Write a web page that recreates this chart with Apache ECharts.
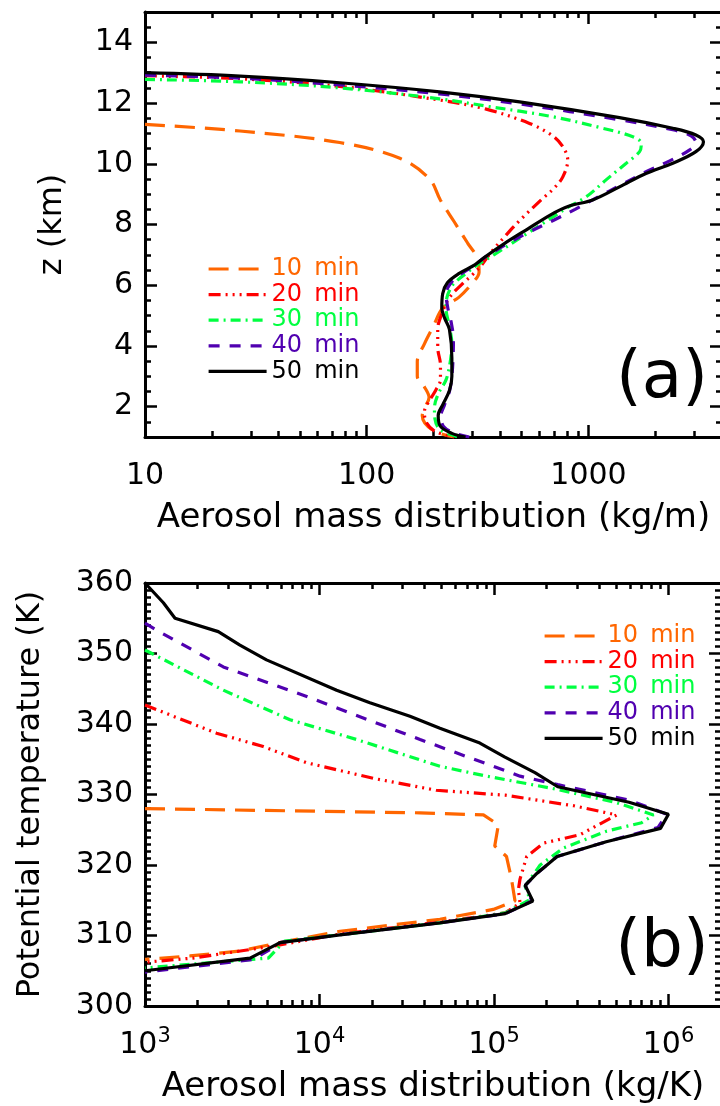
<!DOCTYPE html>
<html lang="en">
<head>
<meta charset="UTF-8">
<title>Aerosol mass distribution</title>
<script src="https://cdn.jsdelivr.net/npm/echarts@6.0.0/dist/echarts.min.js"></script>
<style>
  html, body { margin: 0; padding: 0; background: #fff; }
  #main { width: 720px; height: 1106px; }
</style>
</head>
<body>
<div id="main"></div>
<script>
// legend names, colours and dash patterns
var names = ['10 min', '20 min', '30 min', '40 min', '50 min'];
var colors = ['#ff6600', '#ff0000', '#00ff40', '#5000b0', '#000000'];
var dashes = [[20, 10], [12, 5, 2, 5, 2, 5, 2, 5], [10, 5, 2, 5], [11, 10], 'solid'];

// panel (a): [mass (kg/m), z (km)]
var a10 = [[10,11.3],[26.8,11.08],[75.5,10.7],[141,10.18],[192,9.5],[215,8.8],[248,8.09],[285,7.39],[315,6.9],[321,6.43],[300,6.08],[260,5.6],[220,5.25],[200,4.66],[182,4.07],[169,3.48],[169,3.0],[182,2.65],[191,2.3],[182,1.95],[178,1.7],[198,1.23],[248,1.0]];
var a20 = [[10,12.9],[26.8,12.8],[75.5,12.55],[213,12.1],[346,11.8],[542,11.33],[680,10.95],[760,10.6],[806,10.12],[766,9.57],[700,9.2],[622,8.86],[500,8.2],[419,7.6],[365,7.1],[330,6.67],[300,6.35],[273,6.08],[237,5.61],[220,5.13],[209,4.54],[209,3.95],[215,3.37],[215,2.89],[205,2.55],[191,2.18],[182,1.83],[186,1.47],[205,1.17],[248,1.0]];
var a30 = [[10,12.78],[26.8,12.7],[75.5,12.5],[213,12.14],[346,11.9],[690,11.55],[1160,11.17],[1585,10.89],[1730,10.67],[1700,10.4],[1480,10.02],[1200,9.47],[980,8.92],[800,8.55],[675,8.2],[507,7.62],[380,7.03],[320,6.7],[285,6.43],[255,6.15],[242,5.97],[230,5.6],[228,5.2],[235,4.7],[242,4.07],[238,3.48],[228,2.89],[210,2.42],[202,1.95],[203,1.6],[215,1.23],[260,1.0]];
var a40 = [[10,12.92],[26.8,12.82],[75.5,12.6],[213,12.3],[489,11.97],[1380,11.45],[2400,11.12],[2900,10.92],[3050,10.7],[2850,10.45],[2300,10.08],[1800,9.72],[1400,9.3],[1100,8.9],[870,8.5],[700,8.15],[540,7.75],[420,7.32],[345,6.94],[300,6.62],[262,6.33],[238,6.05],[228,5.72],[232,5.25],[240,4.8],[246,4.2],[245,3.6],[242,3.0],[236,2.5],[224,2.05],[216,1.7],[222,1.35],[250,1.12],[290,1.0]];
var a50 = [[10,13.0],[26.8,12.89],[75.5,12.67],[213,12.37],[489,12.04],[1380,11.52],[2400,11.17],[3050,10.95],[3300,10.73],[3050,10.4],[2400,10.02],[1815,9.68],[1380,9.24],[1045,8.81],[813,8.6],[675,8.32],[531,7.85],[419,7.38],[346,6.96],[307,6.67],[260,6.38],[231,6.08],[220,5.72],[218,5.25],[225,4.9],[236,4.54],[242,3.6],[242,3.0],[236,2.53],[220,2.06],[210,1.71],[215,1.35],[242,1.12],[279,1.0]];

// panel (b): [mass (kg/K), potential temperature (K)]
var b10 = [[1000,328],[37700,327.4],[87000,327.1],[106000,325.7],[101000,322.7],[118000,321.2],[126000,318],[132000,314.9],[99000,313.7],[49000,312.3],[13100,310.6],[5940,309],[3500,307.8],[1810,307.1],[1000,306.6]];
var b20 = [[1000,342.7],[1453,341.1],[2570,338.7],[4760,336.8],[8450,334.5],[20300,332.3],[46600,330.6],[116000,329.9],[287000,328.4],[505000,327.1],[311000,324.3],[192000,323.1],[154000,321.2],[141000,318],[138000,316.5],[141000,314.6],[116000,313.2],[49000,311.9],[13100,310.2],[5430,308.5],[1880,306.8],[1000,306.2]];
var b30 = [[1000,350.5],[2810,344.8],[6780,340.6],[16300,337.8],[49000,334],[90900,332.6],[212000,330.9],[496000,328.9],[820000,327.1],[702000,326],[442000,324.8],[250000,322.4],[184000,320],[150700,317],[161000,315.1],[116000,313.2],[49000,311.8],[13100,310.1],[6310,309.2],[5090,306.8],[1000,305.4]];
var b40 = [[1000,354.3],[1166,353.3],[2810,348.1],[8450,343.9],[37700,337.8],[141000,332.6],[232000,331.4],[594000,329.2],[980000,327.2],[870000,325.3],[440000,323.3],[230000,321.2],[176000,318.8],[151000,317.1],[165000,314.9],[116000,313.1],[49000,311.8],[13100,310.1],[5940,309],[5430,308.3],[4170,306.6],[1000,304.8]];
var b50 = [[1000,360],[1274,357.2],[1486,355],[2630,353.1],[3500,351.2],[4970,349.1],[12540,344.8],[19450,343],[33000,341.1],[49000,339.4],[83000,337.3],[115600,335.3],[171700,333.1],[232000,331.1],[389000,329.9],[594000,328.9],[1000000,327.2],[900000,325.2],[440000,323.3],[230000,321.2],[176000,318.8],[151000,317.1],[167000,314.9],[116000,313.1],[49000,311.8],[13100,310.1],[5940,309],[4000,306.8],[1000,305]];

// tick positions
var aMinorX = [20,30,40,50,60,70,80,90,200,300,400,500,600,700,800,900,2000,3000,4000];
var bMinorX = [2e3,3e3,4e3,5e3,6e3,7e3,8e3,9e3,2e4,3e4,4e4,5e4,6e4,7e4,8e4,9e4,2e5,3e5,4e5,5e5,6e5,7e5,8e5,9e5,2e6];
var aMajorY = [2,4,6,8,10,12,14];
var aMinorY = [1,1.5,2.5,3,3.5,4.5,5,5.5,6.5,7,7.5,8.5,9,9.5,10.5,11,11.5,12.5,13,13.5,14.5,15];

var font = 'DejaVu Sans';
var chart = echarts.init(document.getElementById('main'));

function isDecade(v) {
  var l = Math.log(v) / Math.LN10;
  return Math.abs(l - Math.round(l)) < 1e-6;
}

// one log x axis; kind = 'main' | 'top' | 'minor'
function xAxis(grid, min, max, kind, minor, extra) {
  var ax = {
    gridIndex: grid, type: 'log', logBase: 10, min: min, max: max,
    position: kind == 'top' ? 'top' : 'bottom',
    splitLine: { show: false },
    axisLine: { show: kind != 'minor', onZero: false, lineStyle: { color: '#000', width: 3 } },
    axisTick: { inside: true, length: 12, lineStyle: { color: '#000', width: 2.5 } },
    axisLabel: { show: false }
  };
  if (kind == 'minor') {
    ax.axisTick = { inside: true, length: 6, customValues: minor, lineStyle: { color: '#000', width: 2.5 } };
  }
  if (extra) {
    for (var k in extra) ax[k] = extra[k];
  }
  return ax;
}

function yAxis(grid, min, max, kind, opts) {
  var ax = {
    gridIndex: grid, type: 'value', min: min, max: max,
    position: kind == 'right' ? 'right' : 'left',
    splitLine: { show: false },
    axisLine: { show: kind != 'minor', onZero: false, lineStyle: { color: '#000', width: 3 } },
    axisTick: { inside: true, length: 12, lineStyle: { color: '#000', width: 2.5 } },
    axisLabel: { show: false }
  };
  for (var k in opts) ax[k] = opts[k];
  return ax;
}

var xName = { fontSize: 34, fontFamily: font, color: '#000' };
var yName = { fontSize: 32, fontFamily: font, color: '#000' };

var xAxes = [
  // panel (a)
  xAxis(0, 10, 4000, 'main', null, {
    name: 'Aerosol mass distribution (kg/m)', nameLocation: 'middle', nameGap: 64, nameTextStyle: xName,
    axisLabel: { show: true, fontSize: 30, fontFamily: font, color: '#000', lineHeight: 30, margin: 24,
      formatter: function (v) { return isDecade(v) ? String(Math.round(v)) : ''; } }
  }),
  xAxis(0, 10, 4000, 'top'),
  xAxis(0, 10, 4000, 'minor', aMinorX),
  xAxis(0, 10, 4000, 'minor', aMinorX, { position: 'top' }),
  // panel (b)
  xAxis(1, 1e3, 2e6, 'main', null, {
    name: 'Aerosol mass distribution (kg/K)', nameLocation: 'middle', nameGap: 64, nameTextStyle: xName,
    axisLabel: { show: true, margin: 20, color: '#000',
      formatter: function (v) {
        if (!isDecade(v)) return '';
        return '{b|10}{s|' + Math.round(Math.log(v) / Math.LN10) + '}';
      },
      rich: {
        b: { fontSize: 30, fontFamily: font, color: '#000', lineHeight: 34, verticalAlign: 'bottom' },
        s: { fontSize: 21, fontFamily: font, color: '#000', lineHeight: 34, verticalAlign: 'top' }
      }
    }
  }),
  xAxis(1, 1e3, 2e6, 'top'),
  xAxis(1, 1e3, 2e6, 'minor', bMinorX),
  xAxis(1, 1e3, 2e6, 'minor', bMinorX, { position: 'top' })
];

var yAxes = [
  // panel (a)
  yAxis(0, 1, 15, 'left', {
    interval: 1,
    name: 'z (km)', nameLocation: 'middle', nameGap: 76, nameTextStyle: yName,
    axisTick: { inside: true, length: 12, customValues: aMajorY, lineStyle: { color: '#000', width: 2.5 } },
    axisLabel: { show: true, fontSize: 30, fontFamily: font, color: '#000', margin: 12,
      formatter: function (v) { return v % 2 === 0 ? String(v) : ''; } }
  }),
  yAxis(0, 1, 15, 'right', {
    interval: 1,
    axisTick: { inside: true, length: 12, customValues: aMajorY, lineStyle: { color: '#000', width: 2.5 } }
  }),
  yAxis(0, 1, 15, 'minor', {
    interval: 1,
    axisTick: { inside: true, length: 6, customValues: aMinorY, lineStyle: { color: '#000', width: 2.5 } }
  }),
  yAxis(0, 1, 15, 'minor', {
    interval: 1, position: 'right',
    axisTick: { inside: true, length: 6, customValues: aMinorY, lineStyle: { color: '#000', width: 2.5 } }
  }),
  // panel (b)
  yAxis(1, 300, 360, 'left', {
    interval: 10,
    name: 'Potential temperature (K)', nameLocation: 'middle', nameGap: 98, nameTextStyle: yName,
    minorTick: { show: true, splitNumber: 10, length: 6, lineStyle: { color: '#000', width: 2.5 } },
    axisLabel: { show: true, fontSize: 30, fontFamily: font, color: '#000', margin: 12 }
  }),
  yAxis(1, 300, 360, 'right', {
    interval: 10,
    minorTick: { show: true, splitNumber: 10, length: 6, lineStyle: { color: '#000', width: 2.5 } }
  })
];

function makeSeries(list, axis, smooth) {
  return list.map(function (d, i) {
    return {
      name: names[i], type: 'line', data: d,
      xAxisIndex: axis, yAxisIndex: axis,
      symbol: 'none', showSymbol: false,
      smooth: smooth,
      lineStyle: { color: colors[i], width: 3.2, type: dashes[i] },
      itemStyle: { color: colors[i] },
      emphasis: { disabled: true }
    };
  });
}

var legendData = names.map(function (n, i) {
  return { name: n, textStyle: { color: colors[i] } };
});

function legend(left, top) {
  return {
    left: left, top: top, orient: 'vertical', selectedMode: false,
    itemWidth: 58, itemHeight: 14, itemGap: 1.6,
    data: legendData,
    itemStyle: { opacity: 0 },
    lineStyle: { width: 3.2 },
    formatter: function (n) { return n.replace(' ', '\u2002'); },
    textStyle: { fontSize: 24, fontFamily: font, lineHeight: 22 }
  };
}

var option = {
  animation: false,
  backgroundColor: '#fff',
  grid: [
    { left: 145, top: 12, width: 577, height: 425, containLabel: false, outerBoundsMode: 'none' },
    { left: 145, top: 583, width: 576, height: 423, containLabel: false, outerBoundsMode: 'none' }
  ],
  legend: [legend(202, 252), legend(538, 619)],
  xAxis: xAxes,
  yAxis: yAxes,
  graphic: [
    { type: 'text', x: 662, y: 380, style: { text: '(a)', fontSize: 66, fontFamily: font, fill: '#000', align: 'center', verticalAlign: 'middle' } },
    { type: 'text', x: 662, y: 949, style: { text: '(b)', fontSize: 66, fontFamily: font, fill: '#000', align: 'center', verticalAlign: 'middle' } }
  ],
  series: makeSeries([a10, a20, a30, a40, a50], 0, 0.35)
    .concat(makeSeries([b10, b20, b30, b40, b50], 4, false))
};

chart.setOption(option);
</script>
</body>
</html>
